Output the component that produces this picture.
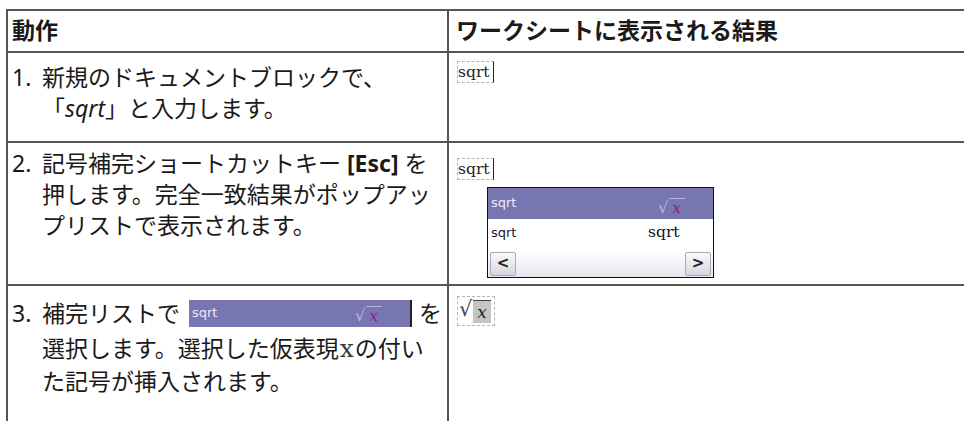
import React from "react";

// Table content (this picture is a two-column instruction table, not a plotted chart)
const headers = ["動作", "ワークシートに表示される結果"];
const stepNumbers = ["1.", "2.", "3."];
const step1Lines = ["新規のドキュメントブロックで、", "と入力します。"];
const step2Lines = ["記号補完ショートカットキー", "押します。完全一致結果がポップアッ", "プリストで表示されます。"];
const step3Lines = ["補完リストで", "選択します。選択した仮表現", "の付い", "た記号が挿入されます。"];
const typedText = "sqrt";
const escKey = "[Esc]";
const placeholder = "x";

const FONT = '"Noto Sans", "Noto Sans CJK JP", sans-serif';
const LINE = "#555";
const FS = 23;
const LH = 31;

const hLine = (top: number) => (
  <div style={{ position: "absolute", left: 6, top, width: 970, height: 2, background: LINE }} />
);
const vLine = (left: number, top: number) => (
  <div style={{ position: "absolute", left, top, width: 2, height: 421 - top, background: LINE }} />
);

function Text({ x, y, children, bold }: { x: number; y: number; children: React.ReactNode; bold?: boolean }) {
  return (
    <div
      style={{
        position: "absolute",
        left: x,
        top: y,
        fontFamily: FONT,
        fontSize: FS,
        lineHeight: `${LH}px`,
        fontWeight: bold ? 700 : 400,
        color: "#1a1a1a",
        whiteSpace: "nowrap",
      }}
    >
      {children}
    </div>
  );
}

function SqrtBox({ x, y }: { x: number; y: number }) {
  return (
    <div
      style={{
        position: "absolute",
        left: x,
        top: y,
        width: 35,
        height: 20,
        border: "1px dashed #b4b4b4",
        borderRight: "1px solid #222",
        fontFamily: '"DejaVu Serif", serif',
        fontSize: 15.5,
        lineHeight: "21px",
        color: "#222",
      }}
    >
      {typedText}
    </div>
  );
}

function Radical({ color, xColor, size }: { color: string; xColor: string; size: number }) {
  return (
    <span style={{ display: "inline-flex", alignItems: "flex-end", fontFamily: '"DejaVu Serif", serif', fontSize: size }}>
      <span style={{ color, fontSize: size * 1.1 }}>√</span>
      <span
        style={{
          color: xColor,
          fontStyle: "italic",
          borderTop: `1px solid ${color}`,
          padding: "0 4px",
          lineHeight: `${size + 3}px`,
        }}
      >
        {placeholder}
      </span>
    </span>
  );
}

function PurpleRow({ width, height }: { width: number; height: number }) {
  return (
    <div
      style={{
        position: "relative",
        width,
        height,
        background: "#7876b0",
        fontFamily: '"DejaVu Sans", sans-serif',
        fontSize: 13,
        color: "#eceaf8",
      }}
    >
      <span style={{ position: "absolute", left: 3, top: height / 2 - 10, lineHeight: "17px" }}>{typedText}</span>
      <span style={{ position: "absolute", right: 28, bottom: 2 }}>
        <Radical color="#b8b6da" xColor="#8a1a8a" size={15} />
      </span>
    </div>
  );
}

function Popup({ x, y }: { x: number; y: number }) {
  return (
    <div
      style={{
        position: "absolute",
        left: x,
        top: y,
        width: 225,
        height: 89,
        border: "1px solid #111",
        background: "#fff",
      }}
    >
      <PurpleRow width={225} height={31} />
      <div style={{ position: "relative", height: 31 }}>
        <span
          style={{ position: "absolute", left: 3, top: 6, fontFamily: '"DejaVu Sans", sans-serif', fontSize: 13, color: "#1a1030" }}
        >
          {typedText}
        </span>
        <span style={{ position: "absolute", left: 160, top: 4, fontFamily: '"DejaVu Serif", serif', fontSize: 15.5, color: "#111" }}>
          {typedText}
        </span>
      </div>
      <div style={{ position: "relative", height: 27, background: "linear-gradient(#ffffff, #e6e6ee)" }}>
        {["<", ">"].map((a, i) => (
          <div
            key={a}
            style={{
              position: "absolute",
              left: i === 0 ? 2 : 197,
              top: 2,
              width: 24,
              height: 22,
              border: "1px solid #a8a8b8",
              borderRadius: 2,
              background: "linear-gradient(#fafafa, #d6d6e0)",
              fontFamily: '"DejaVu Sans", sans-serif',
              fontWeight: 700,
              fontSize: 15,
              lineHeight: "21px",
              textAlign: "center",
              color: "#222",
            }}
          >
            {a}
          </div>
        ))}
      </div>
    </div>
  );
}

export default function App() {
  return (
    <div style={{ position: "absolute", left: 0, top: 0, width: 964, height: 421, overflow: "hidden", background: "#fff" }}>
      {hLine(9)}
      {hLine(51)}
      {hLine(141)}
      {hLine(284)}
      {vLine(6, 9)}
      {vLine(447, 9)}

      {/* header */}
      <Text x={12} y={15} bold>{headers[0]}</Text>
      <Text x={456} y={15} bold>{headers[1]}</Text>

      {/* step 1 */}
      <Text x={12} y={62}>{stepNumbers[0]}</Text>
      <Text x={42} y={62}>{step1Lines[0]}</Text>
      <Text x={42} y={93}>
        「<span style={{ fontStyle: "italic" }}>{typedText}</span>」{step1Lines[1]}
      </Text>
      <SqrtBox x={457} y={61} />

      {/* step 2 */}
      <Text x={12} y={148}>{stepNumbers[1]}</Text>
      <Text x={42} y={148}>
        {step2Lines[0]} <b>{escKey}</b> を
      </Text>
      <Text x={42} y={179}>{step2Lines[1]}</Text>
      <Text x={42} y={210}>{step2Lines[2]}</Text>
      <SqrtBox x={457} y={158} />
      <Popup x={487} y={187} />

      {/* step 3 */}
      <Text x={12} y={298}>{stepNumbers[2]}</Text>
      <Text x={42} y={298}>{step3Lines[0]}</Text>
      <div style={{ position: "absolute", left: 189, top: 300, borderRight: "2px solid #222" }}>
        <PurpleRow width={221} height={27} />
      </div>
      <Text x={419} y={298}>を</Text>
      <Text x={42} y={333}>
        {step3Lines[1]}
        <span style={{ fontFamily: '"DejaVu Serif", serif', fontSize: 25, color: "#3a3a3a", margin: "0 1px" }}>{placeholder}</span>
        {step3Lines[2]}
      </Text>
      <Text x={42} y={366}>{step3Lines[3]}</Text>
      <div
        style={{
          position: "absolute",
          left: 457,
          top: 296,
          width: 36,
          height: 28,
          border: "1px dashed #b4b4b4",
          fontFamily: '"DejaVu Serif", serif',
          fontSize: 21,
        }}
      >
        <span style={{ position: "absolute", left: 1, top: 0, color: "#444" }}>√</span>
        <span
          style={{
            position: "absolute",
            left: 15,
            top: 3,
            width: 18,
            height: 22,
            borderTop: "1px solid #444",
            background: "#c4c4c4",
            fontStyle: "italic",
            fontSize: 17,
            lineHeight: "22px",
            textAlign: "center",
            color: "#222",
          }}
        >
          {placeholder}
        </span>
      </div>
    </div>
  );
}
